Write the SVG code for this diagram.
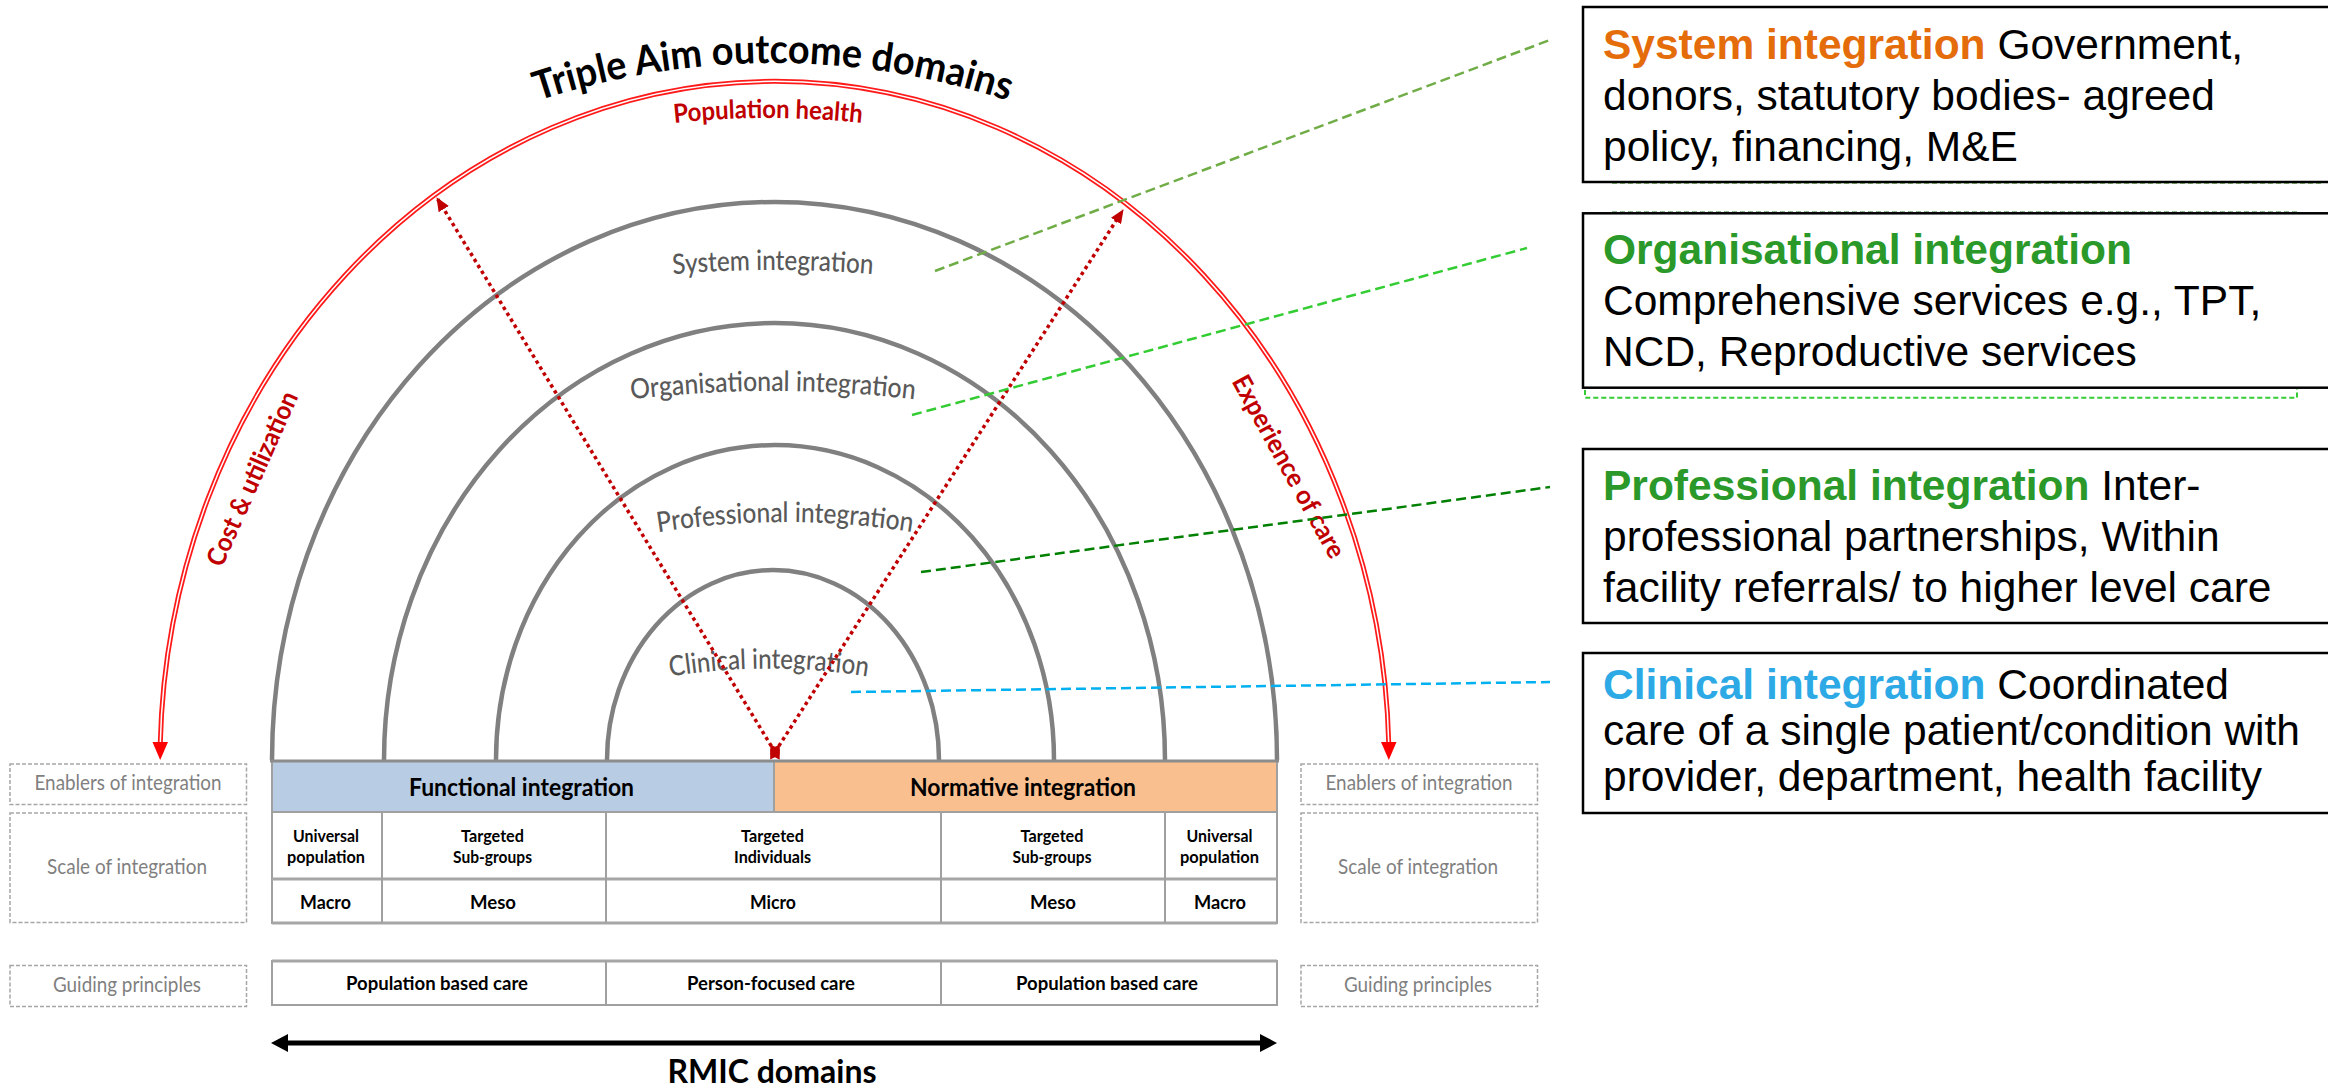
<svg xmlns="http://www.w3.org/2000/svg" width="2328" height="1090" viewBox="0 0 2328 1090">
<style>
.ring{fill:none;stroke:#808080;stroke-width:4.5}
.lbl{font-family:Lato,'Open Sans','Liberation Sans',sans-serif;font-size:28px;font-weight:500;fill:#595959;text-anchor:middle}
.redtxt{font-family:Lato,'Open Sans','Liberation Sans',sans-serif;font-size:26px;font-weight:bold;fill:#C00000;text-anchor:middle}
.dot{fill:none;stroke:#C00000;stroke-width:3.5;stroke-dasharray:3.5 3.5}
.dbox{fill:#fff;stroke:#A6A6A6;stroke-width:1.5;stroke-dasharray:4 2}
.side{font-family:Lato,'Open Sans','Liberation Sans',sans-serif;font-size:21px;fill:#7F7F7F;text-anchor:middle}
.tline{stroke:#A0A0A0;stroke-width:2;fill:none}
.tb{font-family:Lato,'Open Sans','Liberation Sans',sans-serif;font-weight:bold;text-anchor:middle;fill:#000}
.box{fill:#fff;stroke:#000;stroke-width:2.5}
.at{font-family:'Liberation Sans',Arial,sans-serif;font-size:42.5px;fill:#000}
.hd{font-weight:bold}
.orange{fill:#E46C0A}
.green{fill:#2A992A}
.blue{fill:#2DAAE6}
.conn{fill:none;stroke-width:2.5;stroke-dasharray:10 5}
</style>
<defs>
<marker id="redArrow" viewBox="0 0 14 12" refX="13" refY="6" markerWidth="14" markerHeight="12" markerUnits="userSpaceOnUse" orient="auto">
<path d="M0,0 L14,6 L0,12 z" fill="#C00000"/>
</marker>
<marker id="redDiamond" viewBox="0 0 18 11" refX="9" refY="5.5" markerWidth="18" markerHeight="11" markerUnits="userSpaceOnUse" orient="auto">
<path d="M0,5.5 L9,0 L18,5.5 L9,11 z" fill="#C00000"/>
</marker>
<path id="titlePath" d="M 373 178.6 A 750 750 0 0 1 1173 178.6"/>
<path id="popPath" d="M 618 130.6 A 900 900 0 0 1 918 130.6"/>
<path id="sysPath" d="M 623 279.4 A 1200 1200 0 0 1 923 279.4"/>
<path id="orgPath" d="M 603 403.1 A 1200 1200 0 0 1 943 403.1"/>
<path id="proPath" d="M 625 538.2 A 800 800 0 0 1 945 538.2"/>
<path id="cliPath" d="M 619 687 A 620 620 0 0 1 919 687"/>
</defs>
<rect width="2328" height="1090" fill="#fff"/>

<g id="title">
<text font-family="Lato,'Open Sans','Liberation Sans',sans-serif" font-size="40" font-weight="bold" fill="#000" text-anchor="middle"><textPath href="#titlePath" startOffset="50%" textLength="478" lengthAdjust="spacingAndGlyphs">Triple Aim outcome domains</textPath></text>
</g>

<g id="outcome-arc">
<path d="M 160.2 745 A 614.5 681 0 0 1 1388.8 745" fill="none" stroke="#FF1A1A" stroke-width="5"/>
<path d="M 160.2 745 A 614.5 681 0 0 1 1388.8 745" fill="none" stroke="#fff" stroke-width="1.5"/>
<polygon points="152.5,742 168,742 160.2,760" fill="#FF0000"/>
<polygon points="1381,742 1396.5,742 1388.8,760" fill="#FF0000"/>
<text class="redtxt" font-weight="600"><textPath href="#popPath" startOffset="50%" textLength="188" lengthAdjust="spacingAndGlyphs">Population health</textPath></text>
<text class="redtxt" transform="translate(253 479) rotate(-66)" y="8" textLength="188" lengthAdjust="spacingAndGlyphs">Cost &amp; utilization</text>
<text class="redtxt" font-weight="600" transform="translate(1288 467) rotate(61)" y="8" textLength="205" lengthAdjust="spacingAndGlyphs">Experience of care</text>
</g>

<g id="rings">
<path class="ring" d="M 272 760 A 502.5 558 0 0 1 1277 760"/>
<path class="ring" d="M 384 760 A 390.5 437 0 0 1 1165 760"/>
<path class="ring" d="M 496 760 A 279 315 0 0 1 1054 760"/>
<path class="ring" d="M 607 760 A 166 190 0 0 1 939 760"/>
</g>

<g id="ring-labels">
<text class="lbl"><textPath href="#sysPath" startOffset="50%" textLength="200" lengthAdjust="spacingAndGlyphs">System integration</textPath></text>
<text class="lbl"><textPath href="#orgPath" startOffset="50%" textLength="284" lengthAdjust="spacingAndGlyphs">Organisational integration</textPath></text>
<text class="lbl"><textPath href="#proPath" startOffset="50%" textLength="255" lengthAdjust="spacingAndGlyphs">Professional integration</textPath></text>
<text class="lbl"><textPath href="#cliPath" startOffset="50%" textLength="198" lengthAdjust="spacingAndGlyphs">Clinical integration</textPath></text>
</g>

<g id="connectors">
<line class="dot" x1="775" y1="752" x2="437" y2="198" marker-start="url(#redDiamond)" marker-end="url(#redArrow)"/>
<line class="dot" x1="775" y1="752" x2="1123" y2="210" marker-start="url(#redDiamond)" marker-end="url(#redArrow)"/>
<line class="conn" stroke="#70AD47" x1="935" y1="271" x2="1550" y2="40"/>
<line class="conn" stroke="#33CC33" x1="912" y1="415" x2="1527" y2="248"/>
<line class="conn" stroke="#008000" stroke-width="3" x1="921" y1="572" x2="1550" y2="487"/>
<line class="conn" stroke="#00B0F0" stroke-width="3" x1="851" y1="692" x2="1550" y2="682"/>
<line x1="285" y1="1043" x2="1263" y2="1043" stroke="#000" stroke-width="5"/>
<polygon points="271,1043 288,1034 288,1052" fill="#000"/>
<polygon points="1277,1043 1260,1034 1260,1052" fill="#000"/>
</g>

<g id="enablers-row">
<rect x="272" y="762" width="502" height="50" fill="#B8CCE4"/>
<rect x="774" y="762" width="503" height="50" fill="#F9BF8F"/>
<line class="tline" x1="774" y1="762" x2="774" y2="812"/>
<line class="tline" x1="272" y1="762" x2="272" y2="812"/>
<line class="tline" x1="1277" y1="762" x2="1277" y2="812"/>
<line x1="270" y1="761" x2="1279" y2="761" stroke="#8C8C8C" stroke-width="3"/>
<text class="tb" x="521.5" y="796" font-size="24" textLength="225" lengthAdjust="spacingAndGlyphs">Functional integration</text>
<text class="tb" x="1023" y="796" font-size="24" textLength="226" lengthAdjust="spacingAndGlyphs">Normative integration</text>
</g>

<g id="scale-rows">
<rect x="272" y="812" width="1005" height="111" fill="#fff" stroke="#A0A0A0" stroke-width="2"/>
<line class="tline" x1="272" y1="812" x2="1277" y2="812"/>
<line x1="272" y1="879" x2="1277" y2="879" stroke="#A6A6A6" stroke-width="3"/>
<line x1="272" y1="923" x2="1277" y2="923" stroke="#A6A6A6" stroke-width="3"/>
<line class="tline" x1="382" y1="812" x2="382" y2="923"/>
<line class="tline" x1="606" y1="812" x2="606" y2="923"/>
<line class="tline" x1="941" y1="812" x2="941" y2="923"/>
<line class="tline" x1="1165" y1="812" x2="1165" y2="923"/>
<g font-size="17">
<text class="tb" x="326" y="842" textLength="66" lengthAdjust="spacingAndGlyphs">Universal</text>
<text class="tb" x="326" y="863" textLength="78" lengthAdjust="spacingAndGlyphs">population</text>
<text class="tb" x="492.5" y="842" textLength="63" lengthAdjust="spacingAndGlyphs">Targeted</text>
<text class="tb" x="492.5" y="863" textLength="79" lengthAdjust="spacingAndGlyphs">Sub-groups</text>
<text class="tb" x="772.5" y="842" textLength="63" lengthAdjust="spacingAndGlyphs">Targeted</text>
<text class="tb" x="772.5" y="863" textLength="77" lengthAdjust="spacingAndGlyphs">Individuals</text>
<text class="tb" x="1052" y="842" textLength="63" lengthAdjust="spacingAndGlyphs">Targeted</text>
<text class="tb" x="1052" y="863" textLength="79" lengthAdjust="spacingAndGlyphs">Sub-groups</text>
<text class="tb" x="1219.5" y="842" textLength="66" lengthAdjust="spacingAndGlyphs">Universal</text>
<text class="tb" x="1219.5" y="863" textLength="79" lengthAdjust="spacingAndGlyphs">population</text>
</g>
<g font-size="19">
<text class="tb" x="325.5" y="909" textLength="51" lengthAdjust="spacingAndGlyphs">Macro</text>
<text class="tb" x="493" y="909" textLength="46" lengthAdjust="spacingAndGlyphs">Meso</text>
<text class="tb" x="773" y="909" textLength="46" lengthAdjust="spacingAndGlyphs">Micro</text>
<text class="tb" x="1053" y="909" textLength="46" lengthAdjust="spacingAndGlyphs">Meso</text>
<text class="tb" x="1220" y="909" textLength="52" lengthAdjust="spacingAndGlyphs">Macro</text>
</g>
</g>

<g id="principles-row">
<rect x="272" y="961" width="1005" height="44" fill="#fff" stroke="#A0A0A0" stroke-width="2"/>
<line x1="272" y1="961" x2="1277" y2="961" stroke="#A6A6A6" stroke-width="3"/>
<line class="tline" x1="606" y1="961" x2="606" y2="1005"/>
<line class="tline" x1="941" y1="961" x2="941" y2="1005"/>
<g font-size="18">
<text class="tb" x="437" y="990" textLength="182" lengthAdjust="spacingAndGlyphs">Population based care</text>
<text class="tb" x="771" y="990" textLength="168" lengthAdjust="spacingAndGlyphs">Person-focused care</text>
<text class="tb" x="1107" y="990" textLength="182" lengthAdjust="spacingAndGlyphs">Population based care</text>
</g>
</g>

<g id="rmic">
<text class="tb" x="772" y="1083" font-size="33" textLength="209" lengthAdjust="spacingAndGlyphs">RMIC domains</text>
</g>

<g id="left-labels">
<rect class="dbox" x="10" y="764" width="236.5" height="40.5"/>
<text class="side" x="128" y="790" textLength="187" lengthAdjust="spacingAndGlyphs">Enablers of integration</text>
<rect class="dbox" x="10" y="813" width="236.5" height="109.5"/>
<text class="side" x="127" y="874" textLength="160" lengthAdjust="spacingAndGlyphs">Scale of integration</text>
<rect class="dbox" x="10" y="965.5" width="236.5" height="41"/>
<text class="side" x="127" y="992" textLength="148" lengthAdjust="spacingAndGlyphs">Guiding principles</text>
</g>

<g id="right-labels">
<rect class="dbox" x="1301" y="764" width="236.5" height="40.5"/>
<text class="side" x="1419" y="790" textLength="187" lengthAdjust="spacingAndGlyphs">Enablers of integration</text>
<rect class="dbox" x="1301" y="813" width="236.5" height="109.5"/>
<text class="side" x="1418" y="874" textLength="160" lengthAdjust="spacingAndGlyphs">Scale of integration</text>
<rect class="dbox" x="1301" y="965.5" width="236.5" height="41"/>
<text class="side" x="1418" y="992" textLength="148" lengthAdjust="spacingAndGlyphs">Guiding principles</text>
</g>

<g id="box-system">
<line x1="1612" y1="182.7" x2="2321" y2="182.7" stroke="#5FB040" stroke-width="2" stroke-dasharray="5 3"/>
<rect class="box" x="1583" y="7" width="800" height="175"/>
<text class="at" x="1603" y="59"><tspan class="hd orange">System integration</tspan> Government,</text>
<text class="at" x="1603" y="110">donors, statutory bodies- agreed</text>
<text class="at" x="1603" y="161">policy, financing, M&amp;E</text>
</g>

<g id="box-organisational">
<path d="M 1585 390 V 397.7 H 2297 V 388" fill="none" stroke="#33CC33" stroke-width="2" stroke-dasharray="5 3"/>
<line x1="1612" y1="211.7" x2="2297" y2="211.7" stroke="#8DB98D" stroke-width="1.5" stroke-dasharray="5 3"/>
<rect class="box" x="1583" y="213.3" width="800" height="174.4"/>
<text class="at" x="1603" y="264"><tspan class="hd green">Organisational integration</tspan></text>
<text class="at" x="1603" y="315">Comprehensive services e.g., TPT,</text>
<text class="at" x="1603" y="366">NCD, Reproductive services</text>
</g>

<g id="box-professional">
<rect class="box" x="1583" y="449" width="800" height="174"/>
<text class="at" x="1603" y="500"><tspan class="hd green">Professional integration</tspan> Inter-</text>
<text class="at" x="1603" y="551">professional partnerships, Within</text>
<text class="at" x="1603" y="602">facility referrals/ to higher level care</text>
</g>

<g id="box-clinical">
<rect class="box" x="1583" y="653" width="800" height="160"/>
<text class="at" x="1603" y="699"><tspan class="hd blue">Clinical integration</tspan> Coordinated</text>
<text class="at" x="1603" y="745">care of a single patient/condition with</text>
<text class="at" x="1603" y="791">provider, department, health facility</text>
</g>
</svg>
